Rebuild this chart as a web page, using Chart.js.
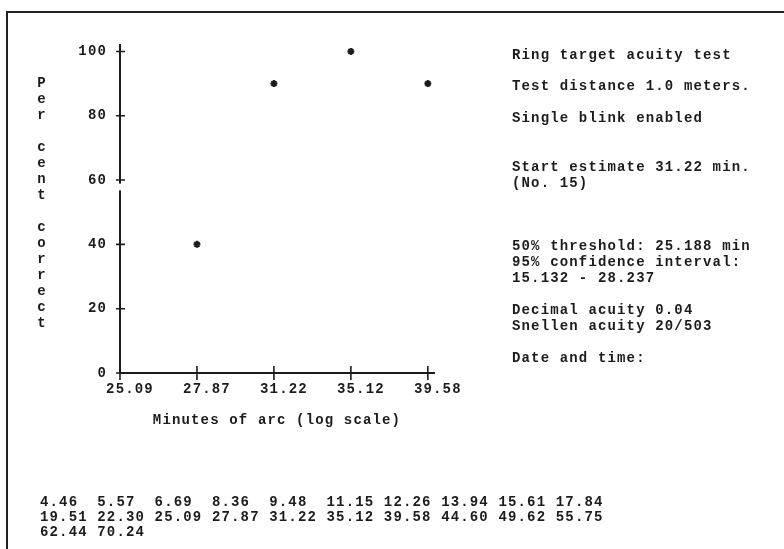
<!DOCTYPE html>
<html><head><meta charset="utf-8">
<script src="https://cdn.jsdelivr.net/npm/chart.js@4.4.1/dist/chart.umd.min.js"></script>
<style>
html,body{margin:0;padding:0;background:#fff;width:784px;height:549px;overflow:hidden}
#frame{position:absolute;left:6px;top:11px;width:820px;height:620px;border-top:2px solid #222;border-left:2px solid #222}
#c{position:absolute;left:0;top:0}
</style></head><body>
<div id="frame"></div>
<canvas id="c" width="784" height="549"></canvas>
<script>
// ---- data ----
const categories = ['25.09', '27.87', '31.22', '35.12', '39.58'];
const percentCorrect = [null, 40, 90, 100, 90];
const yTickStep = 20;
const yTitleWords = ['Per', 'cent', 'correct'];
const xTitle = 'Minutes of arc (log scale)';
const infoBlocks = [
  ['Ring target acuity test'],
  ['Test distance 1.0 meters.'],
  ['Single blink enabled'],
  ['Start estimate 31.22 min.', '(No. 15)'],
  ['50% threshold: 25.188 min', '95% confidence interval:', '15.132 - 28.237'],
  ['Decimal acuity 0.04', 'Snellen acuity 20/503'],
  ['Date and time:']
];
const stimulusSizes = ['4.46','5.57','6.69','8.36','9.48','11.15','12.26','13.94','15.61','17.84',
  '19.51','22.30','25.09','27.87','31.22','35.12','39.58','44.60','49.62','55.75',
  '62.44','70.24'];

// ---- styling ----
const INK = '#1c1c1c';
const FONT = 'Liberation Mono';
const LS = '1.15px';
const infoBlockY = [55, 86, 118, 167, 246, 310, 358];

const overlay = {
  id: 'overlay',
  beforeDraw(chart) { chart.ctx.letterSpacing = LS; },
  afterDraw(chart) {
    const ctx = chart.ctx;
    const xs = chart.scales.x, ys = chart.scales.y;
    const ax = ys.left + ys.width; // y axis pixel x
    const ay = xs.top;             // x axis pixel y
    ctx.save();
    ctx.letterSpacing = LS;
    // gap in the y axis line
    ctx.fillStyle = '#fff';
    const g1 = ys.getPixelForValue(58.9), g2 = ys.getPixelForValue(56.8);
    ctx.fillRect(ax - 3, g1, 6, g2 - g1);
    // crossing tick marks
    ctx.strokeStyle = INK; ctx.lineWidth = 1.6;
    ctx.beginPath();
    categories.forEach((c, i) => {
      const px = xs.getPixelForValue(i);
      ctx.moveTo(px, ay - 7); ctx.lineTo(px, ay + 7);
    });
    for (let v = 0; v <= 100; v += yTickStep) {
      const py = ys.getPixelForValue(v);
      ctx.moveTo(ax - 4, py); ctx.lineTo(ax + 5, py);
    }
    ctx.stroke();
    // vertical y title
    ctx.fillStyle = INK;
    ctx.font = 'bold 14px "' + FONT + '"';
    ctx.textAlign = 'center'; ctx.textBaseline = 'middle';
    let y = 83;
    yTitleWords.forEach((w) => {
      for (const ch of w) { ctx.fillText(ch, 42, y); y += 16; }
      y += 16;
    });
    // info text
    ctx.textAlign = 'left';
    infoBlocks.forEach((blk, bi) => {
      blk.forEach((line, li) => ctx.fillText(line, 512, infoBlockY[bi] + li * 16));
    });
    // stimulus size list
    for (let r = 0; r * 10 < stimulusSizes.length; r++) {
      const row = stimulusSizes.slice(r * 10, r * 10 + 10).map(s => s.padEnd(6, ' ')).join('');
      ctx.fillText(row, 40, 502 + r * 15);
    }
    ctx.restore();
  }
};

const tickFont = { family: FONT, size: 14, weight: 'bold' };

new Chart(document.getElementById('c'), {
  type: 'scatter',
  data: {
    datasets: [{
      data: categories.map((c, i) => ({ x: i, y: percentCorrect[i] })).filter(p => p.y !== null),
      pointStyle: 'star', radius: 3.5, borderWidth: 2,
      borderColor: INK, backgroundColor: INK
    }]
  },
  options: {
    responsive: false, animation: false, events: [],
    layout: { padding: { left: 0, right: 350, top: 45, bottom: 116 } },
    plugins: { legend: { display: false }, tooltip: { enabled: false } },
    scales: {
      x: {
        type: 'linear', min: 0, max: 4.08,
        afterFit(s) { s.height = 60; },
        grid: { display: false, drawTicks: false },
        border: { display: true, color: INK, width: 2 },
        ticks: {
          stepSize: 1, includeBounds: false, autoSkip: false, maxRotation: 0,
          padding: 8, labelOffset: 10, color: INK, font: tickFont,
          callback: v => (Number.isInteger(v) && categories[v] !== undefined) ? categories[v] : ''
        },
        title: { display: true, text: xTitle, color: INK, font: tickFont, padding: { top: 0, bottom: 4 } }
      },
      y: {
        min: 0, max: 102,
        afterFit(s) { s.width = 120; },
        grid: { display: false, drawTicks: false },
        border: { display: true, color: INK, width: 2 },
        ticks: {
          stepSize: yTickStep, includeBounds: false, padding: 13, color: INK, font: tickFont
        }
      }
    }
  },
  plugins: [overlay]
});
</script>
</body></html>
